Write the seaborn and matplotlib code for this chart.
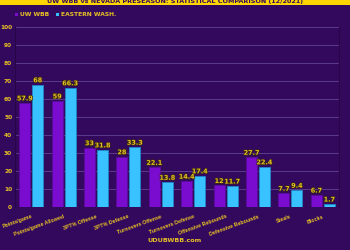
import matplotlib
matplotlib.use("Agg")
import matplotlib.pyplot as plt
import matplotlib.patheffects as pe
from matplotlib.patches import Rectangle
from matplotlib.transforms import ScaledTranslation
import seaborn as sns
import pandas as pd

categories = ["Points/game", "Points/game Allowed", "3PT% Offense", "3PT% Defense",
              "Turnovers Offense", "Turnovers Defense", "Offensive Rebounds",
              "Defensive Rebounds", "Steals", "Blocks"]
uw_values = [57.9, 59, 33, 28, 22.1, 14.4, 12, 27.7, 7.7, 6.7]
ew_values = [68, 66.3, 31.8, 33.3, 13.8, 17.4, 11.7, 22.4, 9.4, 1.7]
series_names = ["UW WBB", "EASTERN WASH."]
y_ticks = [0, 10, 20, 30, 40, 50, 60, 70, 80, 90, 100]
title = "UW WBB vs NEVADA PRESEASON: STATISTICAL COMPARISON (12/2021)"
footer = "UDUBWBB.com"

BG = "#33095e"
PURPLE = "#7a0cd0"
BLUE = "#38c2ff"
GOLD = "#e9c224"
GRID = "#5b3b8c"

df = pd.DataFrame({
    "category": categories * 2,
    "value": uw_values + ew_values,
    "team": [series_names[0]] * len(categories) + [series_names[1]] * len(categories),
})

sns.set_theme(style="dark")
plt.rcParams["font.family"] = ["DejaVu Sans"]
NARROW = ["Liberation Sans", "DejaVu Sans"]

fig = plt.figure(figsize=(3.5, 2.5), dpi=100, facecolor=BG)
ax = fig.add_axes([15/350, 1 - 207/250, 324/350, 180/250])
ax.set_facecolor(BG)

sns.barplot(data=df, x="category", y="value", hue="team", order=categories,
            hue_order=series_names, palette=[PURPLE, BLUE], width=0.8, gap=0.15,
            ax=ax, legend=False, errorbar=None, saturation=1)

for i, cont in enumerate(ax.containers):
    ec = "#5a0a9c" if i == 0 else "#1f86c8"
    for p in cont.patches:
        p.set_edgecolor(ec)
        p.set_linewidth(0.6)
    labels = [f"{v:g}" for v in (uw_values if i == 0 else ew_values)]
    txts = ax.bar_label(cont, labels=labels, padding=1, fontsize=4.6, color=GOLD,
                        fontweight="bold")
    for t in txts:
        t.set_path_effects([pe.withStroke(linewidth=1.0, foreground="#3a2a10")])

ax.set_ylim(0, 100)
ax.set_xlim(-0.5, len(categories) - 0.5)
ax.set_yticks(y_ticks)
ax.set_yticklabels([str(t) for t in y_ticks], fontsize=4.2, color=GOLD, fontweight="bold")
ax.set_xticks(range(len(categories)))
ax.set_xticklabels(categories, rotation=20, ha="right", rotation_mode="anchor",
                   fontsize=3.8, color=GOLD, fontweight="bold", family=NARROW)
shift = ScaledTranslation(2/100, 0, fig.dpi_scale_trans)
for lab in ax.get_xticklabels():
    lab.set_transform(lab.get_transform() + shift)
ax.tick_params(axis="x", length=0, pad=5)
ax.tick_params(axis="y", length=0, pad=2)
ax.set_xlabel("")
ax.set_ylabel("")
ax.grid(axis="y", color=GRID, linewidth=0.7)
ax.grid(axis="x", visible=False)
ax.set_axisbelow(True)
for s in ["left", "right"]:
    ax.spines[s].set_visible(True)
    ax.spines[s].set_color("#260647")
    ax.spines[s].set_linewidth(0.8)
for s in ["top", "bottom"]:
    ax.spines[s].set_visible(False)

# title banner
fig.patches.append(Rectangle((0, 1 - 4.5/250), 1, 4.5/250, transform=fig.transFigure,
                             facecolor="#ffd500", edgecolor="none", zorder=0))
fig.text(0.5, 1 - 1.5/250, title, ha="center", va="center", fontsize=4.6,
         fontweight="bold", color="#33095e")

# legend
fig.patches.append(Rectangle((15.5/350, 1 - 16/250), 3/350, 3/250, transform=fig.transFigure,
                             facecolor=PURPLE, edgecolor="none"))
fig.text(20.5/350, 1 - 14.5/250, series_names[0], ha="left", va="center", fontsize=4.3,
         fontweight="bold", color=GOLD)
fig.patches.append(Rectangle((56/350, 1 - 16/250), 3/350, 3/250, transform=fig.transFigure,
                             facecolor=BLUE, edgecolor="none"))
fig.text(61/350, 1 - 14.5/250, series_names[1], ha="left", va="center", fontsize=4.3,
         fontweight="bold", color=GOLD)

fig.text(0.5, 1 - 241/250, footer, ha="center", va="center", fontsize=4.6,
         color=GOLD, fontweight="bold")

fig.savefig("out.png", dpi=100, facecolor=BG)
